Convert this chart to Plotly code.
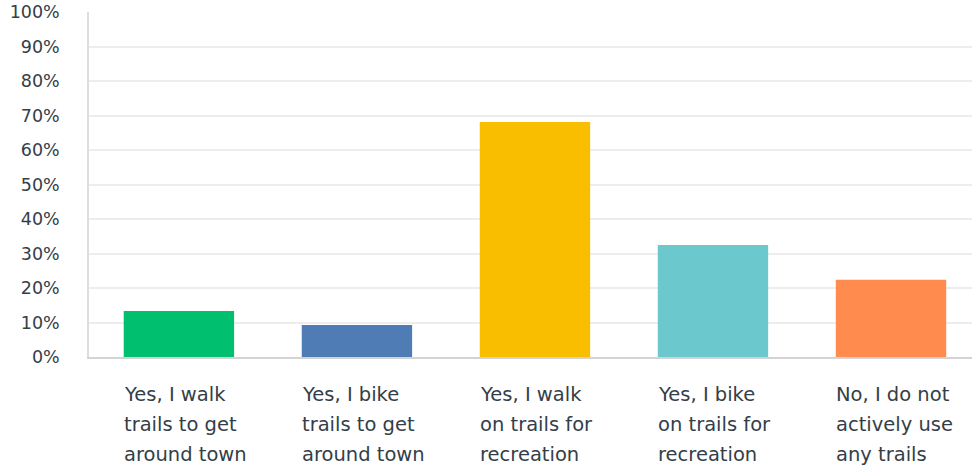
import plotly.graph_objects as go

categories = ["walk_town", "bike_town", "walk_rec", "bike_rec", "no_use"]
label_lines = [
    ["Yes, I walk", "trails to get", "around town"],
    ["Yes, I bike", "trails to get", "around town"],
    ["Yes, I walk", "on trails for", "recreation"],
    ["Yes, I bike", "on trails for", "recreation"],
    ["No, I do not", "actively use", "any trails"],
]
values = [13.3, 9.3, 68.1, 32.5, 22.4]
colors = ["#00bf6f", "#507cb6", "#f9be00", "#6bc8cd", "#ff8b4f"]
yticks = list(range(0, 101, 10))
ytick_text = [f"{v}%" for v in yticks]

FONT = "DejaVu Sans"
TXT = "#333e48"
BW = 0.62

fig = go.Figure(go.Bar(
    x=list(range(len(categories))), y=values,
    marker=dict(color=colors, line=dict(width=0)),
    width=BW, hoverinfo="skip",
))

annotations = []
for i, lines in enumerate(label_lines):
    for j, line in enumerate(lines):
        annotations.append(dict(
            x=i - BW / 2, xref="x", xanchor="left", xshift=-2,
            y=0, yref="paper", yanchor="top",
            yshift=-24 - j * 30,
            text=line, showarrow=False, align="left",
            font=dict(family=FONT, size=19.5, color=TXT),
        ))

fig.update_layout(
    width=972, height=467,
    margin=dict(l=89, r=0, t=12, b=110),
    plot_bgcolor="white", paper_bgcolor="white",
    showlegend=False,
    annotations=annotations,
    xaxis=dict(range=[-0.505, 4.455], showticklabels=False, showgrid=False,
               zeroline=False, showline=True, linecolor="#d3d3d3", linewidth=2,
               fixedrange=True),
    yaxis=dict(range=[0, 100], tickvals=yticks, ticktext=ytick_text,
               showgrid=True, gridcolor="#ededed", gridwidth=1.5,
               zeroline=False, showline=True, linecolor="#dddddd", linewidth=1.5,
               tickfont=dict(family=FONT, size=17.5, color=TXT),
               ticks="", ticklabelstandoff=24, ticklabeloverflow="allow",
               fixedrange=True),
)

fig.write_html(
    "out.html",
    config={"displayModeBar": False},
    post_script="document.body.style.margin='0';document.body.style.overflow='hidden';",
)
